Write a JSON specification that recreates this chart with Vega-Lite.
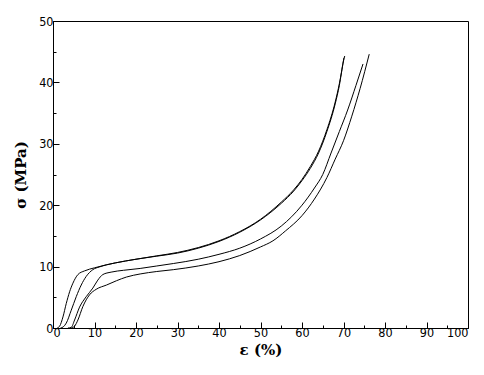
{
  "$schema": "https://vega.github.io/schema/vega-lite/v6.json",
  "width": 415,
  "height": 307,
  "autosize": "none",
  "padding": {"left": 53, "top": 21, "right": 16, "bottom": 47},
  "background": "white",
  "config": {
    "view": {"stroke": "black", "strokeWidth": 1},
    "axis": {
      "domainColor": "black",
      "tickColor": "black",
      "labelColor": "black",
      "titleColor": "black",
      "labelFont": "DejaVu Sans Condensed",
      "labelFontSize": 12.5,
      "grid": false
    }
  },
  "data": {
    "values": [
      {"s": "A", "x": 1.0, "y": 0}, {"s": "A", "x": 1.6, "y": 0.3}, {"s": "A", "x": 2.4, "y": 1.8}, {"s": "A", "x": 3.2, "y": 4}, {"s": "A", "x": 4, "y": 5.9}, {"s": "A", "x": 4.8, "y": 7.3}, {"s": "A", "x": 6, "y": 8.7}, {"s": "A", "x": 7.6, "y": 9.3}, {"s": "A", "x": 10, "y": 9.8}, {"s": "A", "x": 12.9, "y": 10.3}, {"s": "A", "x": 15, "y": 10.6}, {"s": "A", "x": 20, "y": 11.2}, {"s": "A", "x": 25, "y": 11.7}, {"s": "A", "x": 30, "y": 12.2}, {"s": "A", "x": 35, "y": 13}, {"s": "A", "x": 40, "y": 14.1}, {"s": "A", "x": 45, "y": 15.6}, {"s": "A", "x": 50, "y": 17.6}, {"s": "A", "x": 55, "y": 20.3}, {"s": "A", "x": 58, "y": 22.3}, {"s": "A", "x": 60, "y": 24}, {"s": "A", "x": 62, "y": 26}, {"s": "A", "x": 64, "y": 28.5}, {"s": "A", "x": 66, "y": 32}, {"s": "A", "x": 68, "y": 36.5}, {"s": "A", "x": 69, "y": 39.5}, {"s": "A", "x": 70, "y": 43.5}, {"s": "A", "x": 70.3, "y": 44.3},
      {"s": "B", "x": 1.8, "y": 0}, {"s": "B", "x": 2.5, "y": 0.2}, {"s": "B", "x": 3.2, "y": 0.8}, {"s": "B", "x": 4.4, "y": 2.9}, {"s": "B", "x": 5.6, "y": 5.1}, {"s": "B", "x": 6.8, "y": 7}, {"s": "B", "x": 8, "y": 8.4}, {"s": "B", "x": 9.6, "y": 9.5}, {"s": "B", "x": 11.2, "y": 9.95}, {"s": "B", "x": 13, "y": 10.3}, {"s": "B", "x": 15, "y": 10.6}, {"s": "B", "x": 20, "y": 11.2}, {"s": "B", "x": 25, "y": 11.75}, {"s": "B", "x": 30, "y": 12.3}, {"s": "B", "x": 35, "y": 13.1}, {"s": "B", "x": 40, "y": 14.2}, {"s": "B", "x": 45, "y": 15.7}, {"s": "B", "x": 50, "y": 17.7}, {"s": "B", "x": 55, "y": 20.5}, {"s": "B", "x": 58, "y": 22.5}, {"s": "B", "x": 60, "y": 24.2}, {"s": "B", "x": 62, "y": 26.3}, {"s": "B", "x": 64, "y": 28.8}, {"s": "B", "x": 66, "y": 32.3}, {"s": "B", "x": 68, "y": 36.8}, {"s": "B", "x": 69, "y": 39.8}, {"s": "B", "x": 70.1, "y": 44.0},
      {"s": "C", "x": 3.6, "y": 0}, {"s": "C", "x": 4.4, "y": 0.1}, {"s": "C", "x": 5.2, "y": 1.3}, {"s": "C", "x": 6.4, "y": 3.4}, {"s": "C", "x": 8, "y": 5.1}, {"s": "C", "x": 9.6, "y": 6.5}, {"s": "C", "x": 10.8, "y": 7.8}, {"s": "C", "x": 12, "y": 8.7}, {"s": "C", "x": 14, "y": 9.1}, {"s": "C", "x": 17, "y": 9.4}, {"s": "C", "x": 21, "y": 9.7}, {"s": "C", "x": 25, "y": 10.1}, {"s": "C", "x": 29, "y": 10.5}, {"s": "C", "x": 35, "y": 11.2}, {"s": "C", "x": 40, "y": 12}, {"s": "C", "x": 45, "y": 13}, {"s": "C", "x": 50, "y": 14.5}, {"s": "C", "x": 55, "y": 16.6}, {"s": "C", "x": 60, "y": 20}, {"s": "C", "x": 63, "y": 22.8}, {"s": "C", "x": 65, "y": 25}, {"s": "C", "x": 67, "y": 28.5}, {"s": "C", "x": 69, "y": 32}, {"s": "C", "x": 71, "y": 35.5}, {"s": "C", "x": 73, "y": 39.5}, {"s": "C", "x": 74.7, "y": 43},
      {"s": "D", "x": 4.4, "y": 0}, {"s": "D", "x": 5.2, "y": 0.3}, {"s": "D", "x": 6, "y": 1.3}, {"s": "D", "x": 7.2, "y": 3.5}, {"s": "D", "x": 8.8, "y": 5.4}, {"s": "D", "x": 10.4, "y": 6.3}, {"s": "D", "x": 12.9, "y": 7}, {"s": "D", "x": 15.3, "y": 7.7}, {"s": "D", "x": 17.7, "y": 8.3}, {"s": "D", "x": 21, "y": 8.8}, {"s": "D", "x": 25, "y": 9.2}, {"s": "D", "x": 29, "y": 9.5}, {"s": "D", "x": 35, "y": 10.1}, {"s": "D", "x": 40, "y": 10.8}, {"s": "D", "x": 45, "y": 11.8}, {"s": "D", "x": 50, "y": 13.2}, {"s": "D", "x": 53, "y": 14.2}, {"s": "D", "x": 56, "y": 15.8}, {"s": "D", "x": 60, "y": 18.3}, {"s": "D", "x": 63, "y": 21}, {"s": "D", "x": 66, "y": 24.5}, {"s": "D", "x": 68, "y": 27.5}, {"s": "D", "x": 70, "y": 30.5}, {"s": "D", "x": 72, "y": 34.5}, {"s": "D", "x": 74, "y": 39}, {"s": "D", "x": 76.2, "y": 44.6}
    ]
  },
  "mark": {"type": "line", "color": "black", "strokeWidth": 1, "interpolate": "monotone", "clip": true},
  "encoding": {
    "x": {
      "field": "x", "type": "quantitative",
      "scale": {"domain": [0, 100], "nice": false, "zero": false},
      "axis": {
        "title": "ε (%)",
        "titleFont": "DejaVu Serif",
        "titleFontSize": 15,
        "titleFontWeight": "bold",
        "values": [0, 5, 10, 15, 20, 25, 30, 35, 40, 45, 50, 55, 60, 65, 70, 75, 80, 85, 90, 95, 100],
        "labelExpr": "datum.value % 10 === 0 ? datum.label : ''",
        "tickSize": {"condition": {"test": "datum.value % 10 === 0", "value": -6}, "value": -3},
        "labelPadding": 4,
        "titlePadding": 4
      }
    },
    "y": {
      "field": "y", "type": "quantitative",
      "scale": {"domain": [0, 50], "nice": false, "zero": false},
      "axis": {
        "title": "σ (MPa)",
        "titleFont": "DejaVu Serif",
        "titleFontSize": 15,
        "titleFontWeight": "bold",
        "values": [0, 5, 10, 15, 20, 25, 30, 35, 40, 45, 50],
        "labelExpr": "datum.value % 10 === 0 ? datum.label : ''",
        "tickSize": {"condition": {"test": "datum.value % 10 === 0", "value": -6}, "value": -3},
        "labelPadding": 6,
        "titlePadding": 10
      }
    },
    "detail": {"field": "s"}
  }
}
